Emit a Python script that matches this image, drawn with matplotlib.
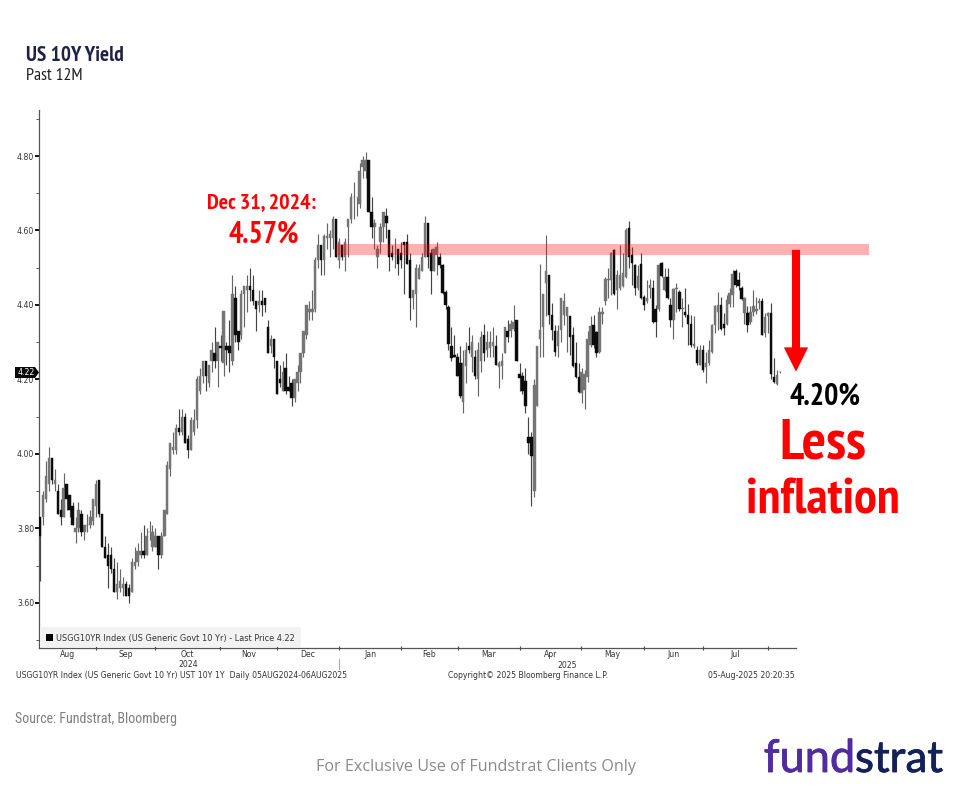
import numpy as np
import matplotlib
matplotlib.use("Agg")
import matplotlib.pyplot as plt
import matplotlib.patheffects as pe
from matplotlib.patches import Polygon, Rectangle
from matplotlib.transforms import blended_transform_factory

opens = [
 3.83,3.83,3.88,3.92,3.99,3.92,3.90,3.85,3.83,3.92,
 3.89,3.86,3.79,3.80,3.84,3.79,3.81,3.81,3.82,3.86,
 3.93,3.84,3.75,3.73,3.73,3.69,3.63,3.64,3.64,3.65,
 3.64,3.63,3.70,3.71,3.73,3.74,3.73,3.79,3.75,3.75,
 3.78,3.73,3.78,3.84,3.96,4.01,4.01,4.07,4.06,4.10,
 4.04,4.01,4.06,4.09,4.17,4.21,4.25,4.19,4.25,4.27,
 4.25,4.29,4.245,4.29,4.29,4.25,4.42,4.33,4.32,4.43,
 4.44,4.45,4.44,4.41,4.40,4.41,4.42,4.34,4.29,4.31,
 4.25,4.20,4.17,4.23,4.18,4.19,4.15,4.19,4.22,4.27,
 4.32,4.38,4.38,4.39,4.52,4.56,4.52,4.58,4.58,4.58,
 4.63,4.52,4.56,4.53,4.61,4.63,4.69,4.69,4.67,4.77,
 4.76,4.79,4.65,4.61,4.53,4.57,4.61,4.64,4.60,4.54,
 4.53,4.55,4.54,4.57,4.57,4.52,4.42,4.43,4.47,4.49,
 4.53,4.62,4.54,4.49,4.534,4.53,4.507,4.435,4.395,4.29,
 4.265,4.26,4.245,4.14,4.235,4.29,4.26,4.26,4.20,4.25,
 4.32,4.28,4.285,4.29,4.29,4.234,4.235,4.27,4.33,4.33,
 4.335,4.36,4.216,4.21,4.197,4.045,4.045,3.90,4.13,4.31,
 4.34,4.46,4.48,4.373,4.33,4.29,4.333,4.373,4.37,4.37,
 4.32,4.243,4.207,4.163,4.172,4.207,4.293,4.346,4.328,4.275,
 4.377,4.41,4.467,4.467,4.548,4.44,4.445,4.45,4.476,4.608,
 4.534,4.507,4.445,4.51,4.422,4.41,4.445,4.445,4.39,4.39,
 4.512,4.44,4.474,4.40,4.36,4.442,4.436,4.39,4.382,4.373,
 4.35,4.29,4.28,4.24,4.28,4.234,4.243,4.275,4.346,4.382,
 4.40,4.35,4.35,4.404,4.427,4.492,4.467,4.445,4.378,4.378,
 4.355,4.382,4.385,4.405,4.41,4.324,4.37,4.378,4.207,4.187,
 4.22]
highs = [
 3.83,3.90,3.98,4.02,3.99,3.96,3.92,3.88,3.95,3.92,
 3.89,3.87,3.83,3.87,3.85,3.81,3.84,3.85,3.88,3.93,
 3.93,3.84,3.78,3.76,3.75,3.72,3.71,3.69,3.67,3.66,
 3.65,3.72,3.75,3.76,3.79,3.81,3.80,3.82,3.81,3.80,
 3.78,3.79,3.85,3.98,4.03,4.06,4.08,4.12,4.12,4.11,
 4.05,4.10,4.12,4.21,4.23,4.25,4.25,4.24,4.30,4.34,
 4.30,4.32,4.385,4.30,4.36,4.48,4.45,4.33,4.44,4.45,
 4.48,4.50,4.48,4.41,4.44,4.44,4.42,4.36,4.32,4.31,
 4.25,4.24,4.25,4.27,4.21,4.20,4.20,4.24,4.27,4.33,
 4.40,4.41,4.44,4.53,4.59,4.56,4.59,4.62,4.60,4.64,
 4.63,4.58,4.56,4.58,4.63,4.70,4.73,4.69,4.78,4.80,
 4.81,4.79,4.69,4.63,4.56,4.62,4.65,4.66,4.60,4.56,
 4.58,4.55,4.57,4.57,4.59,4.54,4.44,4.51,4.51,4.54,
 4.64,4.62,4.55,4.55,4.57,4.54,4.51,4.44,4.40,4.34,
 4.32,4.27,4.29,4.28,4.30,4.34,4.32,4.28,4.30,4.33,
 4.35,4.33,4.33,4.34,4.32,4.25,4.27,4.34,4.36,4.36,
 4.40,4.36,4.245,4.22,4.23,4.10,4.06,4.20,4.29,4.51,
 4.43,4.588,4.48,4.406,4.346,4.346,4.418,4.433,4.395,4.37,
 4.342,4.30,4.243,4.23,4.225,4.33,4.37,4.373,4.33,4.394,
 4.395,4.476,4.50,4.543,4.55,4.494,4.56,4.54,4.606,4.626,
 4.557,4.51,4.507,4.54,4.426,4.467,4.47,4.467,4.40,4.51,
 4.516,4.50,4.50,4.418,4.445,4.458,4.44,4.42,4.445,4.404,
 4.373,4.37,4.29,4.293,4.293,4.275,4.306,4.35,4.40,4.435,
 4.422,4.378,4.427,4.445,4.494,4.496,4.489,4.452,4.421,4.396,
 4.396,4.44,4.422,4.418,4.418,4.378,4.382,4.406,4.257,4.225,
 4.223]
lows = [
 3.66,3.81,3.87,3.90,3.92,3.90,3.84,3.81,3.83,3.85,
 3.83,3.81,3.76,3.79,3.78,3.77,3.79,3.80,3.81,3.83,
 3.83,3.75,3.72,3.64,3.68,3.63,3.61,3.63,3.62,3.62,
 3.60,3.63,3.69,3.70,3.72,3.72,3.73,3.77,3.74,3.75,
 3.69,3.72,3.78,3.84,3.94,4.00,4.00,4.05,4.05,4.03,
 3.99,4.01,4.05,4.07,4.16,4.19,4.17,4.18,4.22,4.23,
 4.18,4.25,4.21,4.24,4.22,4.24,4.30,4.28,4.31,4.34,
 4.38,4.41,4.40,4.33,4.38,4.37,4.38,4.27,4.27,4.23,
 4.16,4.18,4.17,4.16,4.17,4.13,4.14,4.17,4.19,4.26,
 4.31,4.36,4.36,4.38,4.50,4.48,4.48,4.55,4.53,4.55,
 4.53,4.50,4.52,4.49,4.53,4.62,4.63,4.64,4.66,4.74,
 4.74,4.65,4.58,4.55,4.50,4.54,4.57,4.58,4.49,4.52,
 4.50,4.48,4.50,4.43,4.51,4.36,4.39,4.34,4.47,4.49,
 4.53,4.50,4.43,4.49,4.48,4.50,4.43,4.39,4.28,4.25,
 4.26,4.21,4.15,4.11,4.19,4.27,4.22,4.20,4.155,4.22,
 4.25,4.26,4.26,4.26,4.24,4.176,4.20,4.27,4.30,4.315,
 4.33,4.25,4.17,4.16,4.11,4.00,3.86,3.885,4.13,4.26,
 4.26,4.37,4.35,4.306,4.263,4.26,4.30,4.346,4.275,4.265,
 4.234,4.203,4.163,4.136,4.122,4.194,4.288,4.285,4.26,4.27,
 4.35,4.40,4.42,4.427,4.427,4.388,4.44,4.448,4.473,4.50,
 4.454,4.427,4.44,4.415,4.387,4.405,4.42,4.353,4.313,4.385,
 4.474,4.438,4.415,4.342,4.31,4.382,4.385,4.342,4.368,4.293,
 4.288,4.285,4.24,4.24,4.22,4.19,4.24,4.27,4.324,4.333,
 4.332,4.32,4.347,4.395,4.395,4.448,4.44,4.413,4.35,4.328,
 4.35,4.37,4.375,4.39,4.32,4.315,4.324,4.20,4.19,4.185,
 4.217]
closes = [
 3.78,3.89,3.94,3.99,3.93,3.93,3.84,3.83,3.91,3.88,
 3.85,3.81,3.80,3.85,3.79,3.81,3.81,3.83,3.88,3.92,
 3.84,3.75,3.72,3.70,3.69,3.63,3.65,3.66,3.65,3.62,
 3.62,3.71,3.71,3.74,3.74,3.73,3.78,3.79,3.79,3.78,
 3.73,3.78,3.85,3.97,4.03,4.02,4.07,4.06,4.10,4.03,
 4.01,4.09,4.09,4.20,4.21,4.25,4.21,4.24,4.28,4.25,
 4.30,4.285,4.385,4.28,4.27,4.43,4.32,4.30,4.43,4.45,
 4.45,4.44,4.41,4.39,4.41,4.40,4.40,4.27,4.31,4.26,
 4.16,4.19,4.22,4.17,4.17,4.15,4.20,4.22,4.27,4.33,
 4.40,4.39,4.39,4.52,4.56,4.52,4.585,4.585,4.59,4.63,
 4.53,4.57,4.53,4.57,4.63,4.69,4.69,4.69,4.76,4.79,
 4.79,4.65,4.61,4.62,4.55,4.61,4.65,4.62,4.53,4.53,
 4.53,4.51,4.52,4.56,4.51,4.42,4.44,4.50,4.50,4.53,
 4.62,4.53,4.49,4.55,4.556,4.507,4.433,4.40,4.295,4.257,
 4.26,4.21,4.155,4.243,4.28,4.28,4.30,4.21,4.28,4.315,
 4.27,4.30,4.30,4.30,4.24,4.243,4.25,4.34,4.315,4.35,
 4.355,4.25,4.205,4.17,4.13,4.03,3.995,4.185,4.29,4.333,
 4.43,4.49,4.373,4.333,4.275,4.33,4.418,4.41,4.395,4.315,
 4.237,4.207,4.167,4.22,4.216,4.31,4.344,4.293,4.27,4.38,
 4.38,4.47,4.47,4.54,4.43,4.48,4.48,4.485,4.60,4.53,
 4.512,4.445,4.478,4.418,4.40,4.42,4.454,4.355,4.355,4.507,
 4.478,4.476,4.418,4.36,4.442,4.446,4.39,4.393,4.373,4.35,
 4.293,4.295,4.243,4.28,4.225,4.243,4.28,4.346,4.397,4.40,
 4.335,4.337,4.413,4.431,4.483,4.454,4.45,4.415,4.418,4.346,
 4.382,4.396,4.39,4.41,4.32,4.368,4.378,4.216,4.194,4.212,
 4.22]

y_ticks = [3.60, 3.80, 4.00, 4.20, 4.40, 4.60, 4.80]
y_minor = [3.50, 3.70, 3.90, 4.10, 4.30, 4.50, 4.70, 4.90]
month_ticks = [18.9, 38.9, 60.8, 80, 101, 122, 141.2, 162.2, 182.8, 204, 224, 246]
month_names = ["Aug", "Sep", "Oct", "Nov", "Dec", "Jan", "Feb", "Mar", "Apr", "May", "Jun", "Jul"]

W, H = 955, 787
fig = plt.figure(figsize=(W/100, H/100), dpi=100, facecolor="white")
ax = fig.add_axes([39/W, 1-647.5/H, (796-39)/W, (647.5-110)/H])
X0, XS = 40, 2.96
ax.set_xlim((39-X0)/XS, (796-X0)/XS)
ax.set_ylim(3.4805, 4.9235)
for s in ("top", "right"):
    ax.spines[s].set_visible(False)
for s in ("left", "bottom"):
    ax.spines[s].set_color("#555555")
    ax.spines[s].set_linewidth(0.9)

o, h, l, c = map(np.array, (opens, highs, lows, closes))
idx = np.arange(len(c))
up = c >= o
ax.vlines(idx[up], l[up], h[up], color="#666666", lw=0.85, zorder=2)
ax.vlines(idx[~up], l[~up], h[~up], color="#444444", lw=0.85, zorder=2)
bot = np.minimum(o, c)
hgt = np.abs(c-o)
ax.bar(idx[up], hgt[up], bottom=bot[up], width=0.8, color="#757575", edgecolor="#757575", lw=0.3, zorder=3)
ax.bar(idx[~up], hgt[~up], bottom=bot[~up], width=0.8, color="#0c0c0c", edgecolor="#0c0c0c", lw=0.3, zorder=3)

mono = "DejaVu Sans"
tc = "#333333"
ax.set_yticks(y_ticks)
ax.set_yticks(y_minor, minor=True)
ax.set_yticklabels([f"{v:.2f}" for v in y_ticks], fontsize=5.6, color=tc, family=mono)
ax.tick_params(axis="y", which="major", length=3, width=1.4, color="#111111", pad=0.5)
ax.tick_params(axis="y", which="minor", length=2, width=0.7, color="#555555")
ax.set_xticks(month_ticks)
ax.set_xticklabels([])
ax.tick_params(axis="x", which="major", direction="inout", length=3, width=0.8, color="#444444")

def t(x, y, s, **k):
    k.setdefault("ha", "left")
    k.setdefault("va", "center")
    return fig.text(x/W, 1-y/H, s, **k)

bt = dict(fontsize=5.6, color=tc, family=mono)
edges = [(39-X0)/XS] + month_ticks
for i, name in enumerate(month_names):
    mid = (edges[i] + edges[i+1]) / 2
    ax.text(mid, 1-654.5/H, name, transform=blended_transform_factory(ax.transData, fig.transFigure),
            ha="center", va="center", **bt)
t(188, 664.5, "2024", ha="center", **bt)
t(567, 665, "2025", ha="center", **bt)
fig.add_artist(plt.Line2D([339/W, 339/W], [1-659/H, 1-669/H], color="#aaaaaa", lw=0.8))
t(16, 676, "USGG10YR Index (US Generic Govt 10 Yr) UST 10Y 1Y  Daily 05AUG2024-06AUG2025", **bt)
t(448, 676, "Copyright© 2025 Bloomberg Finance L.P.", **bt)
t(795, 676, "05-Aug-2025 20:20:35", ha="right", **bt)

# legend strip
fig.add_artist(Rectangle((40/W, 1-647/H), 261/W, 20/H, transform=fig.transFigure, fc="#f2f2f2", ec="none"))
fig.add_artist(Rectangle((46/W, 1-641/H), 7/W, 7/H, transform=fig.transFigure, fc="black", ec="none"))
t(56, 638, "USGG10YR Index (US Generic Govt 10 Yr) - Last Price 4.22", fontsize=5.9, color=tc, family=mono)

# last-price tag
tag = np.array([[15, 367], [35, 367], [39, 372.5], [35, 378], [15, 378]], float)
tag[:, 0] /= W
tag[:, 1] = 1 - tag[:, 1]/H
fig.add_artist(Polygon(tag, closed=True, transform=fig.transFigure, fc="#0a0a0a", ec="none"))
t(26, 372.5, "4.22", ha="center", fontsize=5.6, color="white", family=mono)

# resistance band and arrow
band_x0, band_x1 = (336-X0)/XS, (869-X0)/XS
ax.add_patch(Rectangle((band_x0, 4.535), band_x1-band_x0, 0.03, fc="#ff0000", alpha=0.31, ec="none", clip_on=False, zorder=4))
ax.annotate("", xy=((796-X0)/XS, 4.221), xytext=((796-X0)/XS, 4.548), annotation_clip=False,
            arrowprops=dict(facecolor="#ff0000", edgecolor="none", width=5.8, headwidth=17.5, headlength=17.5, shrink=0), zorder=5)

nar = ["PT Sans Narrow", "Liberation Sans"]
t(26, 55.5, "US 10Y Yield", fontsize=15.3, fontweight="bold", color="#1f2148", family=nar)
t(26, 76.5, "Past 12M", fontsize=12.7, color="#222222", family=nar)
t(207, 203, "Dec 31, 2024:", fontsize=15.8, fontweight="bold", color="#ff0000", family=nar)
t(228, 235, "4.57%", fontsize=21.5, fontweight="bold", color="#ff0000", family=nar)
t(789, 397, "4.20%", fontsize=21.6, fontweight="bold", color="black", family=nar)
t(823, 458, "Less", ha="center", va="baseline", fontsize=41, fontweight="bold", color="#ff0000", family=nar)
t(823, 514, "inflation", ha="center", va="baseline", fontsize=36.7, fontweight="bold", color="#ff0000", family=nar)

t(15, 719, "Source: Fundstrat, Bloomberg", fontsize=10, color="#7f7f7f", family=["Roboto Condensed", "Liberation Sans"])
t(476, 767, "For Exclusive Use of Fundstrat Clients Only", ha="center", fontsize=11.6, color="#8a8a8a", family="Open Sans")
thick = lambda col: [pe.withStroke(linewidth=0.6, foreground=col)]
t(855, 772, "fund", ha="right", va="baseline", fontsize=32.5, color="#4f2d9e", family="Lato", path_effects=thick("#4f2d9e"))
t(855, 772, "strat", ha="left", va="baseline", fontsize=31.5, color="#14205a", family="Lato", path_effects=thick("#14205a"))

fig.savefig("out.png", dpi=100, facecolor="white")
